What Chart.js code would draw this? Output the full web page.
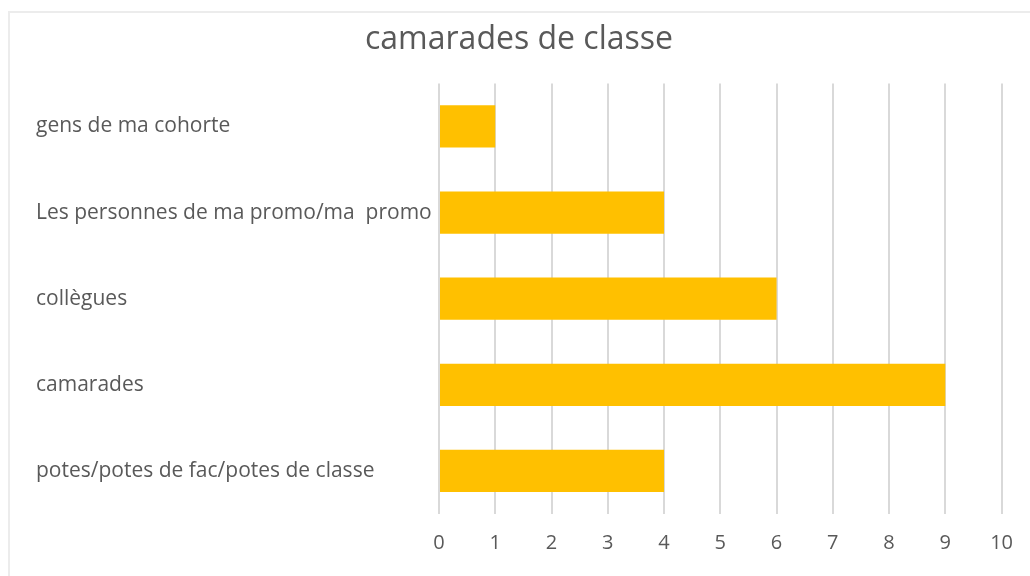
<!DOCTYPE html>
<html>
<head>
<meta charset="utf-8">
<script src="https://cdn.jsdelivr.net/npm/chart.js@4/dist/chart.umd.min.js"></script>
<style>
    html, body { margin: 0; padding: 0; background: #fff; }
    #cadre {
        position: absolute; left: 8px; top: 11px; width: 1030px; height: 576px;
        border-top: 2px solid #ececec; border-left: 2px solid #ececec;
    }
    #zone { position: absolute; left: 0; top: 0; width: 1030px; height: 576px; }
</style>
</head>
<body>
<div id="cadre"></div>
<div id="zone"><canvas id="graphique" width="1030" height="576"></canvas></div>
<script>
// Données
const titre = 'camarades de classe';
const categories = [
    'gens de ma cohorte',
    'Les personnes de ma promo/ma  promo',
    'collègues',
    'camarades',
    'potes/potes de fac/potes de classe'
];
const valeurs = [1, 4, 6, 9, 4];
const graduations = [0, 1, 2, 3, 4, 5, 6, 7, 8, 9, 10];

const couleurTexte = '#595959';
const police = "'Open Sans', sans-serif";

const ctx = document.getElementById('graphique').getContext('2d');

new Chart(ctx, {
    type: 'bar',
    data: {
        labels: categories,
        datasets: [{
            data: valeurs,
            backgroundColor: '#FFC000',
            borderWidth: 0,
            barPercentage: 0.49,
            categoryPercentage: 1
        }]
    },
    options: {
        indexAxis: 'y',
        responsive: false,
        animation: false,
        layout: { padding: { left: 36, right: 28, top: 0, bottom: 4 } },
        plugins: {
            legend: { display: false },
            tooltip: { enabled: false },
            title: {
                display: true,
                text: titre,
                color: couleurTexte,
                font: { family: police, size: 32, weight: 'normal' },
                padding: { top: 21, bottom: 24 }
            }
        },
        scales: {
            x: {
                min: graduations[0],
                max: graduations[graduations.length - 1],
                afterBuildTicks: function(axe) {
                    axe.ticks = graduations.map(v => ({ value: v }));
                },
                grid: { color: '#d9d9d9', lineWidth: 2, drawTicks: false },
                border: { display: false },
                ticks: {
                    color: couleurTexte,
                    padding: 17,
                    font: { family: police, size: 20 }
                }
            },
            y: {
                grid: { display: false },
                border: { display: false },
                afterFit: function(axe) { axe.width = 403; },
                ticks: {
                    crossAlign: 'far',
                    color: couleurTexte,
                    font: { family: police, size: 21 }
                }
            }
        }
    }
});
</script>
</body>
</html>
